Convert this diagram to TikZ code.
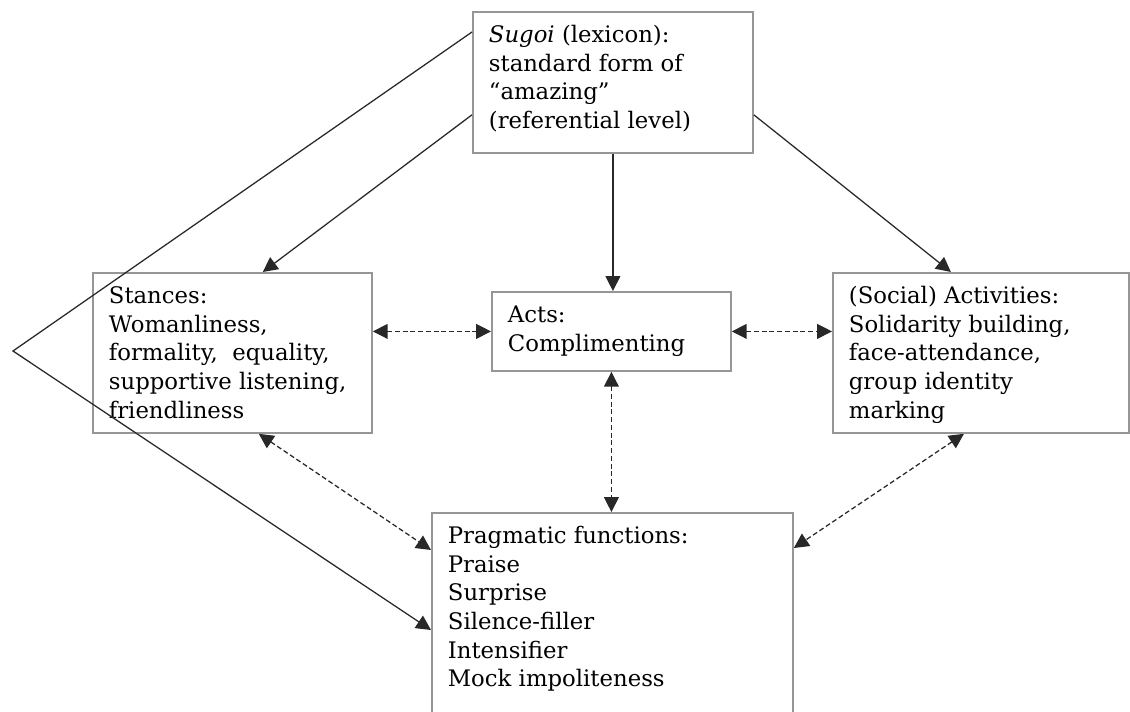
\documentclass[tikz,border=0pt]{standalone}
\usepackage{fontspec}
\setmainfont{DejaVu Serif}
\usetikzlibrary{arrows.meta}

\definecolor{boxgray}{RGB}{150,150,150}
\definecolor{linegray}{RGB}{40,40,40}

\newcommand{\boxtext}[3]{\parbox[c][#2][t]{#1}{\raggedright\rule{0pt}{0.775cm}#3}}

\begin{document}
\begin{tikzpicture}[
    box/.style = {draw = boxgray, line width = 1.3pt, fill = white, inner xsep = 0.4cm,
                  inner ysep = 0pt, anchor = north west,
                  font = \fontsize{16.2pt}{20.3pt}\selectfont},
    link/.style = {draw = linegray, line width = 0.9pt, -{Triangle[length = 10.5pt, width = 10.5pt]}},
    both/.style = {draw = linegray, line width = 0.9pt, dash pattern = on 3.5pt off 2pt,
                   {Triangle[length = 10.5pt, width = 10.5pt]}-{Triangle[length = 10.5pt, width = 10.5pt]}}
]

\useasboundingbox (0, 0) rectangle (28.25, 17.775);
\clip (0, 0) rectangle (28.25, 17.775);

\node[box] (sugoi) at (11.8, 17.5)
    {\boxtext{6.2cm}{3.525cm}{\textit{Sugoi} (lexicon):\\ standard form of\\ ``amazing''\\ (referential level)}};

\node[box] (stances) at (2.3, 10.975)
    {\boxtext{6.175cm}{4cm}{Stances:\\ Womanliness,\\ formality,\ \ equality,\\ supportive listening,\\ friendliness}};

\node[box] (acts) at (12.275, 10.5)
    {\boxtext{5.175cm}{1.975cm}{Acts:\\ Complimenting}};

\node[box] (activities) at (20.8, 10.975)
    {\boxtext{6.6cm}{4cm}{(Social) Activities:\\ Solidarity building,\\ face-attendance,\\ group identity\\ marking}};

\node[box] (functions) at (10.775, 4.975)
    {\boxtext{8.225cm}{6cm}{Pragmatic functions:\\ Praise\\ Surprise\\ Silence-filler\\ Intensifier\\ Mock impoliteness}};

\coordinate (apex) at (0.325, 9.0);

% from the lexicon box
\draw[link] ([yshift = -0.525cm]sugoi.north west) -- (apex) -- ([yshift = -2.95cm]functions.north west);
\draw[link] ([yshift = 0.975cm]sugoi.south west) -- ([xshift = 0.76cm]stances.north);
\draw[link] (sugoi.south) -- (sugoi.south |- acts.north);
\draw[link] ([yshift = 0.975cm]sugoi.south east) -- ([xshift = -0.75cm]activities.north);

% two-way links
\draw[both] (acts.west -| stances.east) -- (acts.west);
\draw[both] (acts.east) -- (acts.east -| activities.west);
\draw[both] (acts.south) -- (acts.south |- functions.north);
\draw[both] ([xshift = 0.66cm]stances.south) -- ([yshift = -0.95cm]functions.north west);
\draw[both] ([xshift = -0.425cm]activities.south) -- ([yshift = -0.9cm]functions.north east);

\end{tikzpicture}
\end{document}
